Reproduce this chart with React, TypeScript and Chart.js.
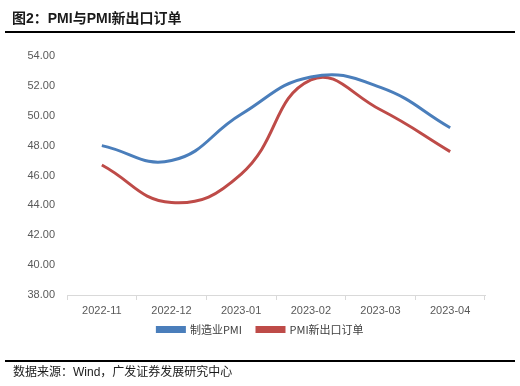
import React, { useEffect, useRef } from "react";
import { Chart, registerables } from "chart.js";

Chart.register(...registerables);

const categories = ["2022-11", "2022-12", "2023-01", "2023-02", "2023-03", "2023-04"];
const pmi = [48.0, 47.0, 50.1, 52.6, 51.9, 49.2];
const exportOrders = [46.7, 44.2, 46.1, 52.4, 50.4, 47.6];
const seriesNames = ["制造业PMI", "PMI新出口订单"];
const yMin = 38;
const yMax = 54;
const yStep = 2;
const titleText = "图2：PMI与PMI新出口订单";
const sourceText = "数据来源：Wind，广发证券发展研究中心";

const legendAdjust = {
  id: "legendAdjust",
  beforeLayout(chart: any) {
    const lg = chart.legend;
    if (lg && !lg._patchedFit) {
      const orig = lg.fit.bind(lg);
      lg.fit = function () {
        orig();
        this.height = 30;
      };
      lg._patchedFit = true;
    }
  },
  afterLayout(chart: any) {
    const lg = chart.legend;
    if (!lg) return;
    lg.top -= 10;
    lg.bottom -= 10;
    lg.left += 18;
    lg.right += 18;
  },
};

export default function App() {
  const ref = useRef<HTMLCanvasElement | null>(null);

  useEffect(() => {
    if (!ref.current) return;
    const chart = new Chart(ref.current, {
      type: "line",
      data: {
        labels: categories,
        datasets: [
          {
            label: seriesNames[0],
            data: pmi,
            borderColor: "#4a7ebb",
            backgroundColor: "#4a7ebb",
            borderWidth: 3,
            pointRadius: 0,
            tension: 0.45,
            fill: false,
          },
          {
            label: seriesNames[1],
            data: exportOrders,
            borderColor: "#be4b48",
            backgroundColor: "#be4b48",
            borderWidth: 3,
            pointRadius: 0,
            tension: 0.45,
            fill: false,
          },
        ],
      },
      plugins: [legendAdjust],
      options: {
        animation: false,
        responsive: false,
        maintainAspectRatio: false,
        layout: { padding: { left: 0, right: 35, top: 56, bottom: 37 } },
        plugins: {
          tooltip: { enabled: false },
          legend: {
            position: "bottom",
            labels: {
              boxWidth: 27,
              boxHeight: 4,
              padding: 15,
              color: "#404040",
              font: { family: "'Noto Sans CJK SC', sans-serif", size: 11 },
            },
          },
        },
        scales: {
          x: {
            offset: true,
            grid: {
              display: true,
              drawOnChartArea: false,
              drawTicks: true,
              tickLength: 5,
              color: "#d9d9d9",
              offset: true,
            },
            border: { display: true, color: "#d9d9d9" },
            ticks: {
              color: "#595959",
              padding: 4,
              maxRotation: 0,
              font: { family: "'Liberation Sans', Arial, sans-serif", size: 11 },
            },
            afterFit: (s: any) => {
              s.height = 24;
            },
          },
          y: {
            min: yMin,
            max: yMax,
            grid: { display: false, drawTicks: false },
            border: { display: false },
            ticks: {
              stepSize: yStep,
              padding: 12,
              color: "#595959",
              font: { family: "'Liberation Sans', Arial, sans-serif", size: 11 },
              callback: (v: any) => Number(v).toFixed(2),
            },
            afterFit: (s: any) => {
              s.width = 67;
            },
          },
        },
      },
    });
    return () => chart.destroy();
  }, []);

  return (
    <div
      style={{
        position: "fixed",
        left: 0,
        top: 0,
        width: 520,
        height: 386,
        background: "#fff",
        overflow: "hidden",
      }}
    >
      <canvas ref={ref} width={520} height={386} style={{ position: "absolute", left: 0, top: 0 }} />
      <div
        style={{
          position: "absolute",
          left: 12,
          top: 9,
          fontFamily: "'Liberation Sans', 'Noto Sans CJK SC', sans-serif",
          fontWeight: "bold",
          fontSize: 14,
          color: "#1a1a1a",
          lineHeight: "18px",
          whiteSpace: "nowrap",
        }}
      >
        {titleText}
      </div>
      <div style={{ position: "absolute", left: 5, top: 31, width: 510, height: 2, background: "#000" }} />
      <div style={{ position: "absolute", left: 5, top: 360, width: 510, height: 2, background: "#000" }} />
      <div
        style={{
          position: "absolute",
          left: 13,
          top: 364,
          fontFamily: "'Liberation Sans', 'Noto Sans CJK SC', sans-serif",
          fontSize: 12,
          color: "#1a1a1a",
          lineHeight: "16px",
          whiteSpace: "nowrap",
        }}
      >
        {sourceText}
      </div>
    </div>
  );
}
